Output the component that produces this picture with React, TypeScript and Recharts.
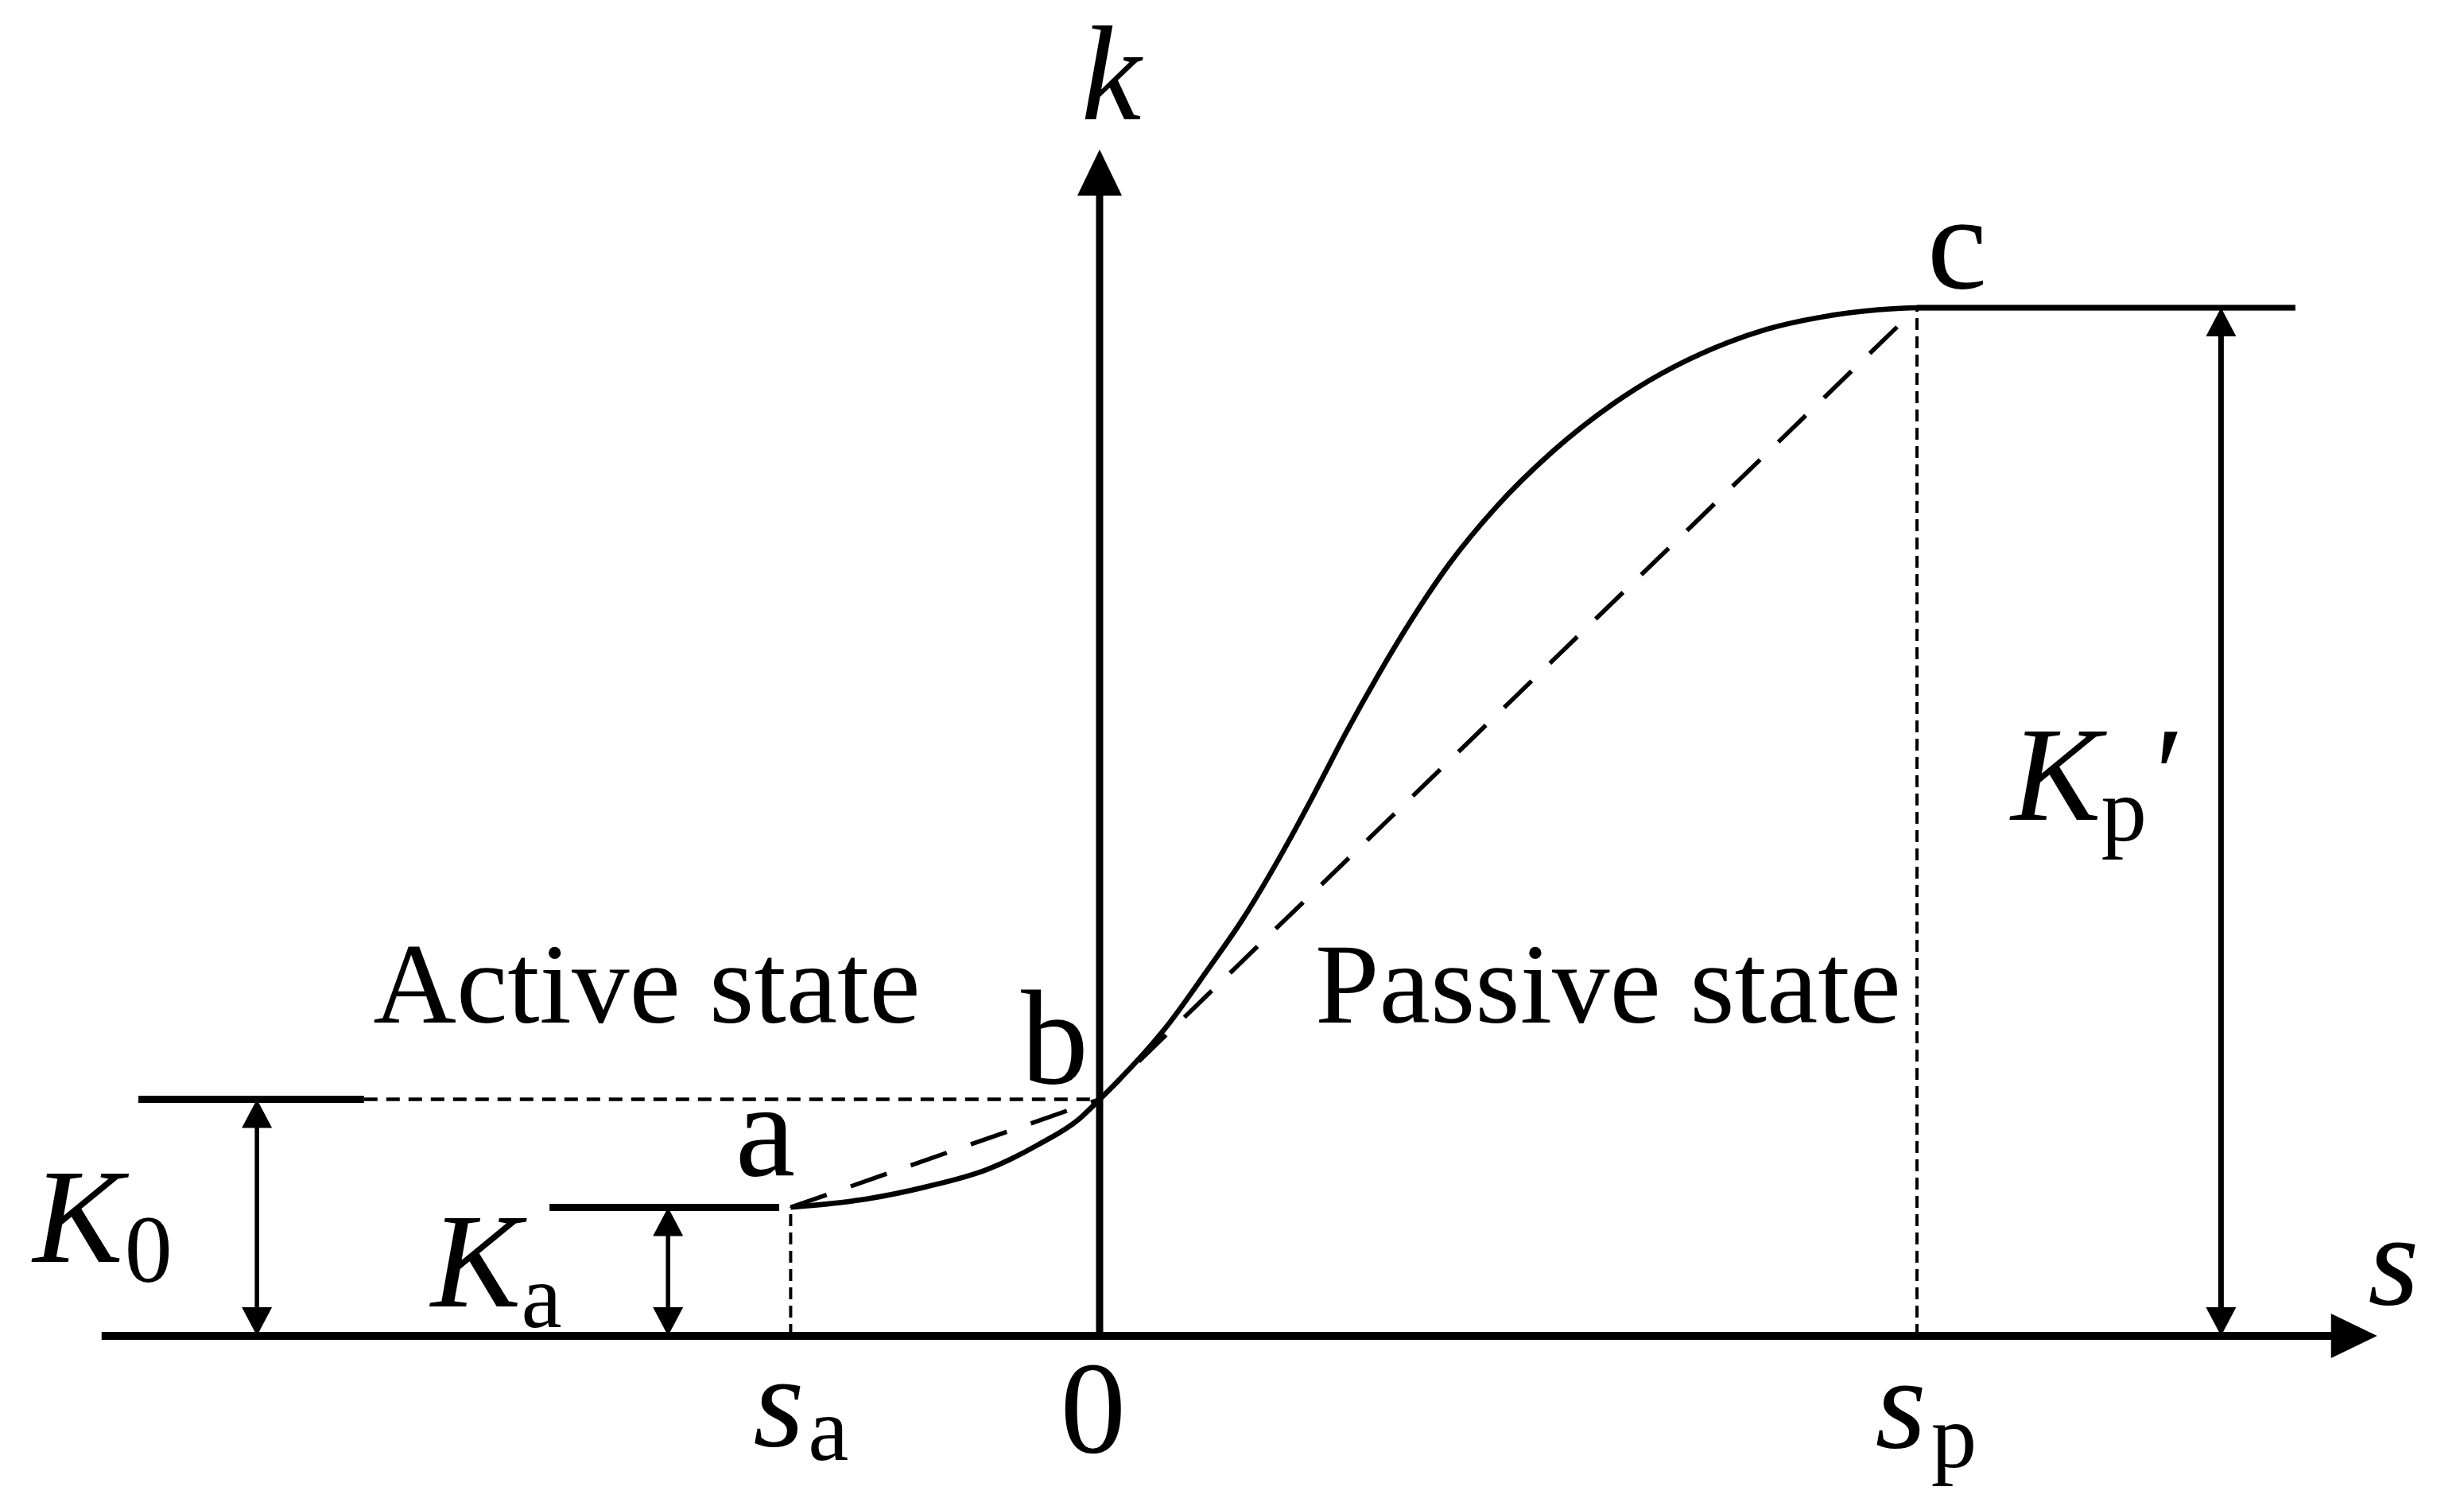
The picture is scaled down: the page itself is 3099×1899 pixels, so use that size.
import React from 'react';
import { ComposedChart, Line, XAxis, YAxis, ReferenceLine, ReferenceDot } from 'recharts';

const W = 3099;
const H = 1899;

// ---- characteristic values (s in units of s_p/10, k in units of K_p'/10) ----
const S_A = -3.78;
const S_P = 10;
const K_A = 1.25;
const K_0 = 2.3;
const K_P = 10;
const S_FLAT_END = 14.63;
const S_AXIS_MIN = -12.21;
const S_AXIS_MAX = 15.63;
const K_AXIS_MAX = 11.54;

// ---- the k(s) curve a -> b -> c -> plateau ----
const CURVE_S = [-3.78, -2.86, -2.12, -1.37, -0.75, -0.25, 0, 0.86, 1.33, 1.74, 2.32, 2.67, 3.01, 3.41, 3.82, 4.27, 4.85, 5.54, 6.42, 7.68, 8.16, 8.84, 9.53, 10, 14.63];
const CURVE_K = [1.25, 1.33, 1.45, 1.62, 1.86, 2.11, 2.3, 3.05, 3.57, 4.04, 4.82, 5.34, 5.86, 6.43, 6.97, 7.5, 8.06, 8.6, 9.14, 9.66, 9.79, 9.91, 9.98, 10, 10];

// ---- secant polyline a -> b -> c ----
const SECANT_S = [S_A, 0, S_P];
const SECANT_K = [K_A, K_0, K_P];

// ---- marker extents ----
const K0_SOLID_S = [-11.76, -9.0];
const KA_SOLID_S = [-6.73, -3.92];
const ARROW_K0_S = -10.31;
const ARROW_KA_S = -5.28;
const ARROW_KP_S = 13.72;

// ---- label anchors (data units) ----
const LBL_k = { s: 0.14, k: 11.83 };
const LBL_s = { s: 15.83, k: 0.31 };
const LBL_a = { s: -4.09, k: 1.56 };
const LBL_b = { s: -0.55, k: 2.46 };
const LBL_c = { s: 10.49, k: 10.19 };
const LBL_ACTIVE = { s: -5.54, k: 3.05 };
const LBL_PASSIVE = { s: 6.22, k: 3.05 };
const LBL_K0 = { s: -13.05, k: 0.72 };
const LBL_KA = { s: -8.18, k: 0.29 };
const LBL_KP = { s: 11.15, k: 5.02 };
const LBL_ZERO = { s: -0.08, k: -1.13 };
const LBL_SA = { s: -4.24, k: -1.07 };
const LBL_SP = { s: 9.49, k: -1.08 };

// pixel calibration of the scale (layout only)
const ORIGIN_X = 1383;
const UNIT_X = 102.8;
const ORIGIN_Y = 1680;
const UNIT_Y = 129.3;
const X_DOMAIN: [number, number] = [-ORIGIN_X / UNIT_X, (W - ORIGIN_X) / UNIT_X];
const Y_DOMAIN: [number, number] = [-(H - ORIGIN_Y) / UNIT_Y, ORIGIN_Y / UNIT_Y];

const curveData = CURVE_S.map((s, i) => ({ s, k: CURVE_K[i] }));
const secantData = SECANT_S.map((s, i) => ({ s, k: SECANT_K[i] }));

const FONT = "'Liberation Serif', 'Times New Roman', Times, serif";
const BLACK = '#000';

function arrowShape(start: boolean, end: boolean, len: number, half: number, sw: number) {
  return (p: any) => {
    const { x1, y1, x2, y2 } = p;
    const dx = x2 - x1;
    const dy = y2 - y1;
    const L = Math.hypot(dx, dy) || 1;
    const ux = dx / L;
    const uy = dy / L;
    const nx = -uy;
    const ny = ux;
    const head = (tx: number, ty: number, dir: number) => {
      const bx = tx - dir * ux * len;
      const by = ty - dir * uy * len;
      return `${tx},${ty} ${bx + nx * half},${by + ny * half} ${bx - nx * half},${by - ny * half}`;
    };
    const sx = start ? x1 + ux * len * 0.8 : x1;
    const sy = start ? y1 + uy * len * 0.8 : y1;
    const ex = end ? x2 - ux * len * 0.8 : x2;
    const ey = end ? y2 - uy * len * 0.8 : y2;
    return (
      <g>
        <line x1={sx} y1={sy} x2={ex} y2={ey} stroke={BLACK} strokeWidth={sw} />
        {start && <polygon points={head(x1, y1, -1)} fill={BLACK} />}
        {end && <polygon points={head(x2, y2, 1)} fill={BLACK} />}
      </g>
    );
  };
}

function lineShape(sw: number, dash?: string) {
  return (p: any) => (
    <line x1={p.x1} y1={p.y1} x2={p.x2} y2={p.y2} stroke={BLACK} strokeWidth={sw} strokeDasharray={dash} />
  );
}

function textShape(render: (x: number, y: number) => React.ReactElement) {
  return (p: any) => render(p.cx, p.cy);
}

const base = { fontFamily: FONT, fill: BLACK } as const;

export default function App() {
  return (
    <div style={{ position: 'absolute', left: 0, top: 0, width: W, height: H, background: '#fff' }}>
      <ComposedChart width={W} height={H} margin={{ top: 0, right: 0, bottom: 0, left: 0 }}>
        <XAxis type="number" dataKey="s" domain={X_DOMAIN} allowDataOverflow hide />
        <YAxis type="number" dataKey="k" domain={Y_DOMAIN} allowDataOverflow hide />

        {/* guide lines */}
        <ReferenceLine segment={[{ x: K0_SOLID_S[1], y: K_0 }, { x: 0, y: K_0 }]} shape={lineShape(4.5, '17 11')} ifOverflow="visible" />
        <ReferenceLine segment={[{ x: S_A, y: 0 }, { x: S_A, y: K_A }]} shape={lineShape(4, '15 8')} ifOverflow="visible" />
        <ReferenceLine segment={[{ x: S_P, y: 0 }, { x: S_P, y: K_P }]} shape={lineShape(4, '15 8')} ifOverflow="visible" />
        <ReferenceLine segment={[{ x: K0_SOLID_S[0], y: K_0 }, { x: K0_SOLID_S[1], y: K_0 }]} shape={lineShape(9)} ifOverflow="visible" />
        <ReferenceLine segment={[{ x: KA_SOLID_S[0], y: K_A }, { x: KA_SOLID_S[1], y: K_A }]} shape={lineShape(9)} ifOverflow="visible" />

        {/* dimension arrows */}
        <ReferenceLine segment={[{ x: ARROW_K0_S, y: 0 }, { x: ARROW_K0_S, y: K_0 }]} shape={arrowShape(true, true, 36, 19, 5.5)} ifOverflow="visible" />
        <ReferenceLine segment={[{ x: ARROW_KA_S, y: 0 }, { x: ARROW_KA_S, y: K_A }]} shape={arrowShape(true, true, 36, 19, 5.5)} ifOverflow="visible" />
        <ReferenceLine segment={[{ x: ARROW_KP_S, y: 0 }, { x: ARROW_KP_S, y: K_P }]} shape={arrowShape(true, true, 36, 19, 7)} ifOverflow="visible" />

        {/* axes */}
        <ReferenceLine segment={[{ x: S_AXIS_MIN, y: 0 }, { x: S_AXIS_MAX, y: 0 }]} shape={arrowShape(false, true, 58, 28, 10)} ifOverflow="visible" />
        <ReferenceLine segment={[{ x: 0, y: 0 }, { x: 0, y: K_AXIS_MAX }]} shape={arrowShape(false, true, 58, 28, 9)} ifOverflow="visible" />

        {/* series */}
        <Line data={secantData} dataKey="k" type="linear" stroke={BLACK} strokeWidth={5.5} strokeDasharray="48 32" dot={false} activeDot={false} isAnimationActive={false} />
        <Line data={curveData} dataKey="k" type="monotone" stroke={BLACK} strokeWidth={6.5} dot={false} activeDot={false} isAnimationActive={false} />

        {/* plateau */}
        <ReferenceLine segment={[{ x: S_P, y: K_P }, { x: S_FLAT_END, y: K_P }]} shape={lineShape(7)} ifOverflow="visible" />

        {/* labels */}
        <ReferenceDot x={LBL_k.s} y={LBL_k.k} r={1} ifOverflow="visible"
          shape={textShape((x, y) => <text x={x} y={y} textAnchor="middle" fontSize={170} fontStyle="italic" {...base}>k</text>)} />
        <ReferenceDot x={LBL_s.s} y={LBL_s.k} r={1} ifOverflow="visible"
          shape={textShape((x, y) => <text x={x} y={y} textAnchor="middle" fontSize={165} fontStyle="italic" {...base}>s</text>)} />
        <ReferenceDot x={LBL_a.s} y={LBL_a.k} r={1} ifOverflow="visible"
          shape={textShape((x, y) => <text x={x} y={y} textAnchor="middle" fontSize={170} {...base}>a</text>)} />
        <ReferenceDot x={LBL_b.s} y={LBL_b.k} r={1} ifOverflow="visible"
          shape={textShape((x, y) => <text x={x} y={y} textAnchor="middle" fontSize={170} {...base}>b</text>)} />
        <ReferenceDot x={LBL_c.s} y={LBL_c.k} r={1} ifOverflow="visible"
          shape={textShape((x, y) => <text x={x} y={y} textAnchor="middle" fontSize={170} {...base}>c</text>)} />
        <ReferenceDot x={LBL_ACTIVE.s} y={LBL_ACTIVE.k} r={1} ifOverflow="visible"
          shape={textShape((x, y) => <text x={x} y={y} textAnchor="middle" fontSize={145} {...base}>Active state</text>)} />
        <ReferenceDot x={LBL_PASSIVE.s} y={LBL_PASSIVE.k} r={1} ifOverflow="visible"
          shape={textShape((x, y) => <text x={x} y={y} textAnchor="middle" fontSize={145} {...base}>Passive state</text>)} />
        <ReferenceDot x={LBL_K0.s} y={LBL_K0.k} r={1} ifOverflow="visible"
          shape={textShape((x, y) => (
            <text x={x} y={y} fontSize={170} {...base}>
              <tspan fontStyle="italic">K</tspan>
              <tspan fontSize={120} dx={2} dy={25}>0</tspan>
            </text>
          ))} />
        <ReferenceDot x={LBL_KA.s} y={LBL_KA.k} r={1} ifOverflow="visible"
          shape={textShape((x, y) => (
            <text x={x} y={y} fontSize={170} {...base}>
              <tspan fontStyle="italic">K</tspan>
              <tspan fontSize={115} dx={0} dy={26}>a</tspan>
            </text>
          ))} />
        <ReferenceDot x={LBL_KP.s} y={LBL_KP.k} r={1} ifOverflow="visible"
          shape={textShape((x, y) => (
            <text x={x} y={y} fontSize={170} {...base}>
              <tspan fontStyle="italic">K</tspan>
              <tspan fontSize={115} dx={0} dy={26}>p</tspan>
              <tspan fontSize={170} dx={10} dy={-26}>′</tspan>
            </text>
          ))} />
        <ReferenceDot x={LBL_ZERO.s} y={LBL_ZERO.k} r={1} ifOverflow="visible"
          shape={textShape((x, y) => <text x={x} y={y} textAnchor="middle" fontSize={165} {...base}>0</text>)} />
        <ReferenceDot x={LBL_SA.s} y={LBL_SA.k} r={1} ifOverflow="visible"
          shape={textShape((x, y) => (
            <text x={x} y={y} fontSize={165} {...base}>
              <tspan fontStyle="italic">s</tspan>
              <tspan fontSize={115} dx={5} dy={18}>a</tspan>
            </text>
          ))} />
        <ReferenceDot x={LBL_SP.s} y={LBL_SP.k} r={1} ifOverflow="visible"
          shape={textShape((x, y) => (
            <text x={x} y={y} fontSize={165} {...base}>
              <tspan fontStyle="italic">s</tspan>
              <tspan fontSize={115} dx={6} dy={25}>p</tspan>
            </text>
          ))} />
      </ComposedChart>
    </div>
  );
}
